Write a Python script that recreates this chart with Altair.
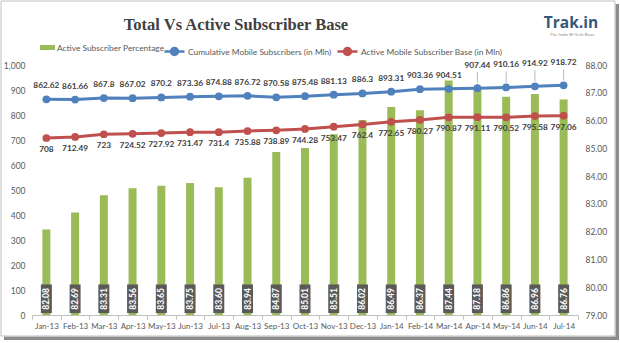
import altair as alt
import pandas as pd

months = ["Jan-13", "Feb-13", "Mar-13", "Apr-13", "May-13", "Jun-13", "Jul-13",
          "Aug-13", "Sep-13", "Oct-13", "Nov-13", "Dec-13", "Jan-14", "Feb-14",
          "Mar-14", "Apr-14", "May-14", "Jun-14", "Jul-14"]
cumulative = [862.62, 861.66, 867.8, 867.02, 870.2, 873.36, 874.88, 876.72, 870.58,
              875.48, 881.13, 886.3, 893.31, 903.36, 904.51, 907.44, 910.16, 914.92, 918.72]
active_base = [708, 712.49, 723, 724.52, 727.92, 731.47, 731.4, 735.88, 738.89,
               744.28, 753.47, 762.4, 772.65, 780.27, 790.87, 791.11, 790.52, 795.58, 797.06]
active_pct = [82.08, 82.69, 83.31, 83.56, 83.65, 83.75, 83.60, 83.94, 84.87, 85.01,
              85.51, 86.02, 86.49, 86.37, 87.44, 87.18, 86.86, 86.96, 86.76]
callout_months = ["Apr-14", "May-14", "Jun-14", "Jul-14"]

S_PCT = "Active Subscriber Percentage"
S_CUM = "Cumulative Mobile Subscribers (in Mln)"
S_ACT = "Active Mobile Subscriber Base (in Mln)"

GREEN = "#9BBB59"
BLUE = "#4F81BD"
RED = "#C0504D"
TXT = "#595959"
FONT = "Lato, sans-serif"

df = pd.DataFrame({"month": months, "cumulative": cumulative,
                   "active": active_base, "pct": active_pct})
df["cum_label"] = [f"{v:g}" for v in cumulative]
df["act_label"] = [f"{v:g}" for v in active_base]
df["pct_label"] = [f"{v:.2f}" for v in active_pct]

one = pd.DataFrame({"k": [0]})

x_enc = alt.X("month:N", sort=months,
              scale=alt.Scale(type="band", paddingInner=0, paddingOuter=0),
              axis=alt.Axis(title=None, labelAngle=0, tickBand="extent",
                            domainColor="#BFBFBF", tickColor="#BFBFBF", tickSize=4,
                            labelPadding=3, labelFont=FONT, labelFontSize=8,
                            labelColor=TXT, grid=False))

# ---- right axis: percentage bars ----
y_right_axis = alt.Axis(orient="right", values=list(range(79, 89)), format=".2f",
                        title=None, domain=False, ticks=False, labelPadding=7,
                        grid=False, labelFont=FONT, labelFontSize=8.5,
                        labelColor=TXT)
y_right_scale = alt.Scale(domain=[79, 88], zero=False, nice=False)

leg_common = dict(title=None, orient="none", direction="horizontal",
                  labelFont=FONT, labelFontSize=8.4, labelColor=TXT,
                  labelOffset=2, labelLimit=400, padding=0)

bars = alt.Chart(df).mark_bar(size=8).transform_calculate(
    series=f"'{S_PCT}'"
).encode(
    x=x_enc,
    y=alt.Y("pct:Q", scale=y_right_scale, axis=y_right_axis),
    y2=alt.Y2Datum(79),
    color=alt.Color("series:N", scale=alt.Scale(range=[GREEN]),
                    legend=alt.Legend(symbolType="M-1,-0.33H1V0.33H-1Z",
                                      symbolSize=225, symbolStrokeWidth=0,
                                      legendX=8, legendY=-25, **leg_common)),
)
boxes = alt.Chart(df).mark_bar(size=11, color="#5A5A5A").encode(
    x=x_enc,
    y=alt.YDatum(79.07, scale=y_right_scale, axis=y_right_axis),
    y2=alt.Y2Datum(80.1),
)
box_text = alt.Chart(df).mark_text(angle=270, color="white", font=FONT,
                                   fontWeight="bold", fontSize=8.5).encode(
    x=x_enc,
    y=alt.YDatum(79.58, scale=y_right_scale, axis=y_right_axis),
    text="pct_label:N",
)
bars_group = alt.layer(bars, boxes, box_text)

# ---- left axis: subscriber lines ----
y_left_axis = alt.Axis(orient="left", values=list(range(0, 1001, 50)),
                       labelExpr="datum.value % 100 === 0 ? datum.label : ''",
                       title=None, domain=False, ticks=False, labelPadding=7,
                       gridColor={"condition": {"test": "datum.value % 100 === 0",
                                                "value": "#D9D9D9"},
                                  "value": "#F0F0F0"},
                       labelFont=FONT, labelFontSize=8.5, labelColor=TXT)
y_left_scale = alt.Scale(domain=[0, 1000], nice=False)

sym_line = ("M-1,0H1M-0.35,0A0.35,0.35,0,1,1,0.35,0"
            "A0.35,0.35,0,1,1,-0.35,0Z")


def series_group(field, label_field, series_name, color, leg_x, dy, callouts):
    base = alt.Chart(df)
    y = alt.Y(f"{field}:Q", scale=y_left_scale, axis=y_left_axis)
    line = base.mark_line(color=color, strokeWidth=3).encode(x=x_enc, y=y)
    pts = base.mark_circle(size=60, opacity=1).transform_calculate(
        series=f"'{series_name}'"
    ).encode(
        x=x_enc, y=y,
        color=alt.Color("series:N", scale=alt.Scale(range=[color]),
                        legend=alt.Legend(symbolType=sym_line, symbolSize=400,
                                          symbolStrokeColor=color,
                                          symbolStrokeWidth=2.5,
                                          legendX=leg_x, legendY=-25,
                                          **leg_common)),
    )
    text_kw = dict(font=FONT, fontWeight="bold", fontSize=8.3, color="#404040")
    if callouts:
        normal = base.transform_filter(
            {"not": alt.FieldOneOfPredicate(field="month", oneOf=callout_months)})
        lbl = normal.mark_text(dy=dy, **text_kw).encode(
            x=x_enc, y=y, text=f"{label_field}:N")
        cal = base.transform_filter(
            alt.FieldOneOfPredicate(field="month", oneOf=callout_months))
        cal_lbl = cal.mark_text(dy=dy - 9, **text_kw).encode(
            x=x_enc, y=y, text=f"{label_field}:N")
        leader = cal.mark_rule(color="#A6A6A6", strokeWidth=0.8,
                               yOffset=-5, y2Offset=-16).encode(
            x=x_enc, y=y, y2=alt.Y2(f"{field}:Q"))
        return alt.layer(line, leader, pts, lbl, cal_lbl)
    lbl = base.mark_text(dy=dy, **text_kw).encode(
        x=x_enc, y=y, text=f"{label_field}:N")
    return alt.layer(line, pts, lbl)


cum_group = series_group("cumulative", "cum_label", S_CUM, BLUE, 131, -13, True)
act_group = series_group("active", "act_label", S_ACT, RED, 304, 12, False)
lines_group = alt.layer(cum_group, act_group).resolve_scale(color="independent")

# ---- frame, title, logo ----
frame = alt.Chart(one).mark_rect(filled=False, stroke="#BFBFBF", strokeWidth=1).encode(
    x=alt.value(-31), x2=alt.value(583), y=alt.value(-64), y2=alt.value(271))
shadow_b = alt.Chart(one).mark_rect(color="#8C8C8C").encode(
    x=alt.value(-28), x2=alt.value(587), y=alt.value(271.5), y2=alt.value(275))
shadow_r = alt.Chart(one).mark_rect(color="#8C8C8C").encode(
    x=alt.value(583.5), x2=alt.value(587), y=alt.value(-61), y2=alt.value(275))
title = alt.Chart(one).mark_text(
    text="Total Vs Active Subscriber Base", font="Liberation Serif",
    fontWeight="bold", fontSize=16.5, color="#404040", align="center",
    baseline="middle").encode(x=alt.value(204), y=alt.value(-40))
logo = alt.Chart(one).mark_text(
    text="Trak.in", font="Open Sans", fontWeight="bold", fontSize=15.5,
    color="#35577A", align="center", baseline="middle").encode(
    x=alt.value(539), y=alt.value(-42))
logo_sub = alt.Chart(one).mark_text(
    text="The India Bi-Tech Buzz", font=FONT, fontSize=4.5, color="#8C8C8C",
    align="center", baseline="middle").encode(x=alt.value(540), y=alt.value(-30.5))

chart = alt.layer(
    shadow_b, shadow_r, frame, title, logo, logo_sub, bars_group, lines_group
).resolve_scale(
    y="independent", color="independent"
).properties(
    width=546, height=250,
    autosize=alt.AutoSizeParams(type="none"),
    padding={"left": 32, "top": 65, "right": 42, "bottom": 28},
).configure_view(stroke=None)

chart.save("out.html", embed_options={"renderer": "svg", "actions": False})
